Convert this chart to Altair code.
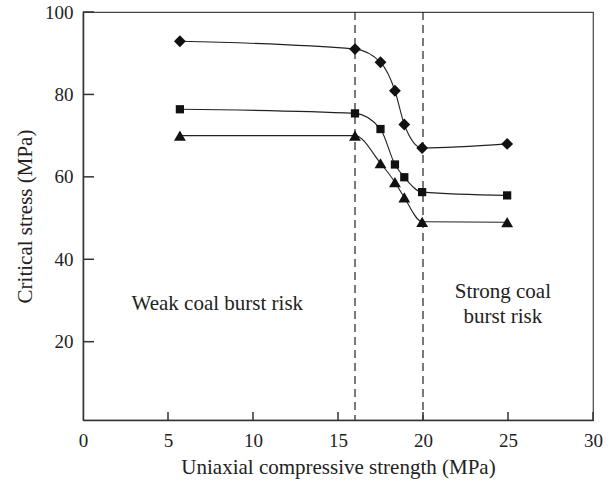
import altair as alt
import pandas as pd

FONT = "Liberation Serif"

x_vals = [5.7, 16.0, 17.5, 18.35, 18.9, 19.95, 24.95]
diamond_y = [92.9, 91.0, 87.8, 80.9, 72.7, 67.0, 68.0]
square_y = [76.4, 75.4, 71.6, 63.0, 59.9, 56.3, 55.5]
triangle_y = [70.0, 70.0, 63.3, 58.7, 55.0, 49.1, 49.0]
series_names = ["diamond", "square", "triangle-up"]
marker_sizes = [140, 68, 140]

x_ticks = [5, 10, 15, 20, 25, 30]
y_ticks = [20, 40, 60, 80, 100]
divider_x = [16, 20]

note_x = [7.9, 24.7, 24.7]
note_y = [29.2, 32.0, 26.0]
note_text = ["Weak coal burst risk", "Strong coal", "burst risk"]

rows = []
for name, ys in zip(series_names, [diamond_y, square_y, triangle_y]):
    for xv, yv in zip(x_vals, ys):
        rows.append({"x": xv, "y": yv, "s": name})
df = pd.DataFrame(rows)

xs = alt.Scale(domain=[0, 30], nice=False)
ys_ = alt.Scale(domain=[1, 100], nice=False)

x_enc = alt.X("x:Q", scale=xs, axis=alt.Axis(
    title="Uniaxial compressive strength (MPa)", values=[0, 5, 10, 15, 20, 25, 30],
    ticks=False, grid=False, domainColor="#333", domainWidth=1.5,
    labelPadding=11, titlePadding=6, labelFlush=False))
y_enc = alt.Y("y:Q", scale=ys_, axis=alt.Axis(
    title="Critical stress (MPa)", values=y_ticks,
    ticks=False, grid=False, domainColor="#333", domainWidth=1.5,
    labelPadding=10, titlePadding=9))

base = alt.Chart(df)
lines = base.mark_line(interpolate="monotone", color="#222", strokeWidth=1.1).encode(
    x=x_enc, y=y_enc, detail="s:N")

point_layers = []
for name, sz in zip(series_names, marker_sizes):
    point_layers.append(
        base.transform_filter(alt.datum.s == name).mark_point(
            filled=True, color="#111", opacity=1, shape=name, size=sz, strokeWidth=0
        ).encode(x="x:Q", y="y:Q")
    )

div_df = pd.DataFrame({"x": divider_x})
dividers = alt.Chart(div_df).mark_rule(color="#222", strokeDash=[8, 5], strokeWidth=1.2).encode(
    x="x:Q", y=alt.value(0), y2=alt.value(408))

xt_df = pd.DataFrame({"x": x_ticks})
xticks = alt.Chart(xt_df).mark_rule(color="#333", strokeWidth=1.5).encode(
    x="x:Q", y=alt.value(408), y2=alt.value(400))
yt_df = pd.DataFrame({"y": y_ticks})
yticks = alt.Chart(yt_df).mark_rule(color="#333", strokeWidth=1.5).encode(
    y="y:Q", x=alt.value(0), x2=alt.value(11))

note_df = pd.DataFrame({"x": note_x, "y": note_y, "t": note_text})
notes = alt.Chart(note_df).mark_text(font=FONT, fontSize=21, color="#222", align="center",
                                     baseline="middle").encode(x="x:Q", y="y:Q", text="t:N")

chart = alt.layer(dividers, lines, *point_layers, xticks, yticks, notes).properties(
    width=510, height=408,
    autosize=alt.AutoSizeParams(type="none"),
    padding={"left": 83, "top": 12, "right": 23, "bottom": 61},
).configure_view(stroke="#444", strokeWidth=1.2).configure_axis(
    labelFont=FONT, titleFont=FONT, labelFontSize=19, titleFontSize=21,
    labelColor="#222", titleColor="#222", titleFontWeight="normal")

chart.save("out.html", embed_options={"renderer": "svg", "actions": False})
